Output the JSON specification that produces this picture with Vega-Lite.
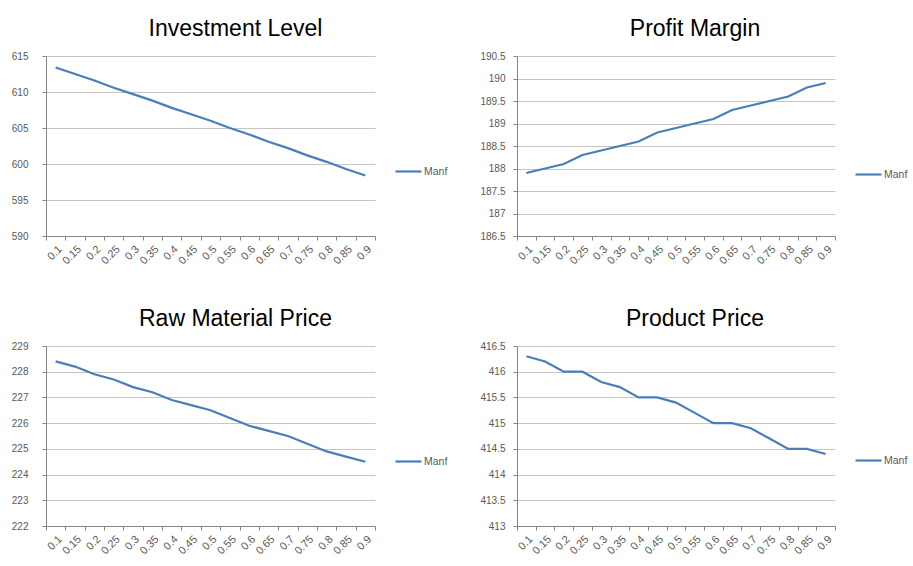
{
  "$schema": "https://vega.github.io/schema/vega-lite/v6.json",
  "background": "white",
  "padding": {"left": 11, "top": 18, "right": 5, "bottom": 2},
  "bounds": "flush",
  "columns": 2,
  "spacing": {"row": 110, "column": 142},
  "datasets": {
    "inv": [
      {"t": "0.1", "v": 613.4}, {"t": "0.15", "v": 612.5}, {"t": "0.2", "v": 611.6}, {"t": "0.25", "v": 610.6},
      {"t": "0.3", "v": 609.7}, {"t": "0.35", "v": 608.8}, {"t": "0.4", "v": 607.8}, {"t": "0.45", "v": 606.9},
      {"t": "0.5", "v": 606.0}, {"t": "0.55", "v": 605.0}, {"t": "0.6", "v": 604.1}, {"t": "0.65", "v": 603.1},
      {"t": "0.7", "v": 602.2}, {"t": "0.75", "v": 601.2}, {"t": "0.8", "v": 600.3}, {"t": "0.85", "v": 599.3},
      {"t": "0.9", "v": 598.4}
    ],
    "pm": [
      {"t": "0.1", "v": 187.9}, {"t": "0.15", "v": 188.0}, {"t": "0.2", "v": 188.1}, {"t": "0.25", "v": 188.3},
      {"t": "0.3", "v": 188.4}, {"t": "0.35", "v": 188.5}, {"t": "0.4", "v": 188.6}, {"t": "0.45", "v": 188.8},
      {"t": "0.5", "v": 188.9}, {"t": "0.55", "v": 189.0}, {"t": "0.6", "v": 189.1}, {"t": "0.65", "v": 189.3},
      {"t": "0.7", "v": 189.4}, {"t": "0.75", "v": 189.5}, {"t": "0.8", "v": 189.6}, {"t": "0.85", "v": 189.8},
      {"t": "0.9", "v": 189.9}
    ],
    "rm": [
      {"t": "0.1", "v": 228.4}, {"t": "0.15", "v": 228.2}, {"t": "0.2", "v": 227.9}, {"t": "0.25", "v": 227.7},
      {"t": "0.3", "v": 227.4}, {"t": "0.35", "v": 227.2}, {"t": "0.4", "v": 226.9}, {"t": "0.45", "v": 226.7},
      {"t": "0.5", "v": 226.5}, {"t": "0.55", "v": 226.2}, {"t": "0.6", "v": 225.9}, {"t": "0.65", "v": 225.7},
      {"t": "0.7", "v": 225.5}, {"t": "0.75", "v": 225.2}, {"t": "0.8", "v": 224.9}, {"t": "0.85", "v": 224.7},
      {"t": "0.9", "v": 224.5}
    ],
    "pp": [
      {"t": "0.1", "v": 416.3}, {"t": "0.15", "v": 416.2}, {"t": "0.2", "v": 416.0}, {"t": "0.25", "v": 416.0},
      {"t": "0.3", "v": 415.8}, {"t": "0.35", "v": 415.7}, {"t": "0.4", "v": 415.5}, {"t": "0.45", "v": 415.5},
      {"t": "0.5", "v": 415.4}, {"t": "0.55", "v": 415.2}, {"t": "0.6", "v": 415.0}, {"t": "0.65", "v": 415.0},
      {"t": "0.7", "v": 414.9}, {"t": "0.75", "v": 414.7}, {"t": "0.8", "v": 414.5}, {"t": "0.85", "v": 414.5},
      {"t": "0.9", "v": 414.4}
    ]
  },
  "resolve": {"scale": {"color": "independent", "x": "independent", "y": "independent"}, "legend": {"color": "independent"}},
  "concat": [
    {
      "title": {"text": "Investment Level", "dx": 25},
      "width": 329, "height": 180,
      "data": {"name": "inv"},
      "mark": {"type": "line", "strokeWidth": 2.2},
      "encoding": {
        "x": {"field": "t", "type": "ordinal", "sort": null, "scale": {"type": "band", "paddingInner": 0, "paddingOuter": 0}, "title": null},
        "y": {"field": "v", "type": "quantitative", "title": null, "scale": {"domain": [590, 615], "zero": false, "nice": false},
              "axis": {"values": [590, 595, 600, 605, 610, 615], "format": "~f", "labelPadding": 14}},
        "color": {"datum": "Manf", "scale": {"range": ["#4a7ebb"]}, "legend": {"orient": "none", "legendX": 348, "legendY": 101}}
      }
    },
    {
      "title": {"text": "Profit Margin", "dx": 19},
      "width": 318, "height": 180,
      "data": {"name": "pm"},
      "mark": {"type": "line", "strokeWidth": 2.2},
      "encoding": {
        "x": {"field": "t", "type": "ordinal", "sort": null, "scale": {"type": "band", "paddingInner": 0, "paddingOuter": 0}, "title": null},
        "y": {"field": "v", "type": "quantitative", "title": null, "scale": {"domain": [186.5, 190.5], "zero": false, "nice": false},
              "axis": {"values": [186.5, 187, 187.5, 188, 188.5, 189, 189.5, 190, 190.5], "format": "~f", "labelPadding": 8}},
        "color": {"datum": "Manf", "scale": {"range": ["#4a7ebb"]}, "legend": {"orient": "none", "legendX": 337, "legendY": 104}}
      }
    },
    {
      "title": {"text": "Raw Material Price", "dx": 25},
      "width": 329, "height": 180,
      "data": {"name": "rm"},
      "mark": {"type": "line", "strokeWidth": 2.2},
      "encoding": {
        "x": {"field": "t", "type": "ordinal", "sort": null, "scale": {"type": "band", "paddingInner": 0, "paddingOuter": 0}, "title": null},
        "y": {"field": "v", "type": "quantitative", "title": null, "scale": {"domain": [222, 229], "zero": false, "nice": false},
              "axis": {"values": [222, 223, 224, 225, 226, 227, 228, 229], "format": "~f", "labelPadding": 14}},
        "color": {"datum": "Manf", "scale": {"range": ["#4a7ebb"]}, "legend": {"orient": "none", "legendX": 348, "legendY": 101}}
      }
    },
    {
      "title": {"text": "Product Price", "dx": 19},
      "width": 318, "height": 180,
      "data": {"name": "pp"},
      "mark": {"type": "line", "strokeWidth": 2.2},
      "encoding": {
        "x": {"field": "t", "type": "ordinal", "sort": null, "scale": {"type": "band", "paddingInner": 0, "paddingOuter": 0}, "title": null},
        "y": {"field": "v", "type": "quantitative", "title": null, "scale": {"domain": [413, 416.5], "zero": false, "nice": false},
              "axis": {"values": [413, 413.5, 414, 414.5, 415, 415.5, 416, 416.5], "format": "~f", "labelPadding": 8}},
        "color": {"datum": "Manf", "scale": {"range": ["#4a7ebb"]}, "legend": {"orient": "none", "legendX": 337, "legendY": 100}}
      }
    }
  ],
  "config": {
    "font": "Liberation Sans",
    "view": {"stroke": null},
    "title": {"fontSize": 23, "fontWeight": "normal", "color": "#000000", "anchor": "middle", "offset": 10, "font": "Liberation Sans"},
    "axis": {"labelFont": "Liberation Sans", "labelFontSize": 10, "labelColor": "#595959", "domainColor": "#868686", "tickColor": "#868686", "tickSize": 4, "gridColor": "#c6c6c6", "gridWidth": 1},
    "axisX": {"labelAngle": -45, "tickBand": "extent", "grid": false, "labelPadding": 3, "labelFontSize": 11},
    "axisY": {"grid": true, "domain": true, "ticks": true},
    "legend": {"title": null, "symbolType": "stroke", "symbolSize": 676, "symbolStrokeWidth": 2.2, "labelFontSize": 10.5, "labelColor": "#595959", "labelOffset": 1, "padding": 0}
  }
}
